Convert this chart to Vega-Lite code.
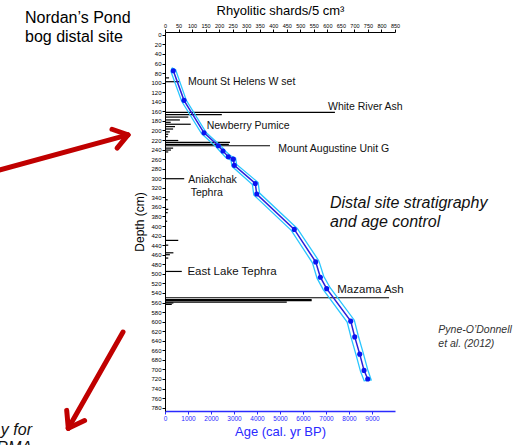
{
  "$schema": "https://vega.github.io/schema/vega-lite/v6.json",
  "width": 230,
  "height": 379,
  "autosize": "none",
  "padding": {"left": 165, "top": 32, "right": 135, "bottom": 34},
  "background": "white",
  "config": {"view": {"stroke": null}, "font": "Liberation Sans"},
  "datasets": {
    "bars": [
      {"depth": 90, "shards": 15}, {"depth": 98, "shards": 53},
      {"depth": 162, "shards": 628}, {"depth": 167, "shards": 210},
      {"depth": 172, "shards": 86}, {"depth": 178, "shards": 55},
      {"depth": 183, "shards": 21}, {"depth": 187, "shards": 95},
      {"depth": 192, "shards": 37}, {"depth": 197, "shards": 30},
      {"depth": 203, "shards": 18}, {"depth": 208, "shards": 12},
      {"depth": 213, "shards": 10}, {"depth": 221, "shards": 49},
      {"depth": 225, "shards": 240}, {"depth": 229, "shards": 236},
      {"depth": 232, "shards": 388}, {"depth": 237, "shards": 30},
      {"depth": 241, "shards": 22}, {"depth": 245, "shards": 12},
      {"depth": 301, "shards": 71}, {"depth": 345, "shards": 10},
      {"depth": 365, "shards": 12}, {"depth": 372, "shards": 10},
      {"depth": 390, "shards": 8}, {"depth": 430, "shards": 49},
      {"depth": 440, "shards": 12}, {"depth": 456, "shards": 31},
      {"depth": 460, "shards": 18}, {"depth": 467, "shards": 12},
      {"depth": 495, "shards": 62}, {"depth": 550, "shards": 828},
      {"depth": 554, "shards": 542}, {"depth": 556, "shards": 542},
      {"depth": 559, "shards": 450}, {"depth": 561, "shards": 31},
      {"depth": 564, "shards": 25}
    ],
    "curve": [
      {"age": 361, "depth": 75}, {"age": 826, "depth": 137},
      {"age": 1696, "depth": 205}, {"age": 2318, "depth": 232},
      {"age": 2522, "depth": 243}, {"age": 2752, "depth": 255},
      {"age": 2970, "depth": 260}, {"age": 3013, "depth": 273},
      {"age": 3926, "depth": 311}, {"age": 3987, "depth": 333},
      {"age": 5622, "depth": 407}, {"age": 6551, "depth": 475},
      {"age": 6754, "depth": 507}, {"age": 7029, "depth": 531},
      {"age": 8075, "depth": 599}, {"age": 8249, "depth": 632},
      {"age": 8466, "depth": 668}, {"age": 8654, "depth": 702},
      {"age": 8813, "depth": 720}
    ],
    "envelope": [
      {"seq": 1, "age": 300, "depth": 69},
      {"seq": 2, "age": 461, "depth": 73},
      {"seq": 3, "age": 926, "depth": 137},
      {"seq": 4, "age": 1796, "depth": 205},
      {"seq": 5, "age": 2418, "depth": 232},
      {"seq": 6, "age": 2622, "depth": 243},
      {"seq": 7, "age": 2852, "depth": 253},
      {"seq": 8, "age": 3070, "depth": 258},
      {"seq": 9, "age": 3113, "depth": 271},
      {"seq": 10, "age": 4050, "depth": 309},
      {"seq": 11, "age": 4110, "depth": 331},
      {"seq": 12, "age": 5750, "depth": 405},
      {"seq": 13, "age": 6690, "depth": 473},
      {"seq": 14, "age": 6900, "depth": 505},
      {"seq": 15, "age": 7180, "depth": 529},
      {"seq": 16, "age": 8230, "depth": 597},
      {"seq": 17, "age": 8405, "depth": 630},
      {"seq": 18, "age": 8620, "depth": 666},
      {"seq": 19, "age": 8810, "depth": 700},
      {"seq": 20, "age": 8965, "depth": 722},
      {"seq": 21, "age": 8660, "depth": 724},
      {"seq": 22, "age": 8500, "depth": 704},
      {"seq": 23, "age": 8310, "depth": 670},
      {"seq": 24, "age": 8095, "depth": 634},
      {"seq": 25, "age": 7920, "depth": 601},
      {"seq": 26, "age": 6880, "depth": 533},
      {"seq": 27, "age": 6610, "depth": 509},
      {"seq": 28, "age": 6410, "depth": 477},
      {"seq": 29, "age": 5490, "depth": 409},
      {"seq": 30, "age": 3860, "depth": 335},
      {"seq": 31, "age": 3800, "depth": 313},
      {"seq": 32, "age": 2913, "depth": 275},
      {"seq": 33, "age": 2870, "depth": 262},
      {"seq": 34, "age": 2652, "depth": 257},
      {"seq": 35, "age": 2422, "depth": 245},
      {"seq": 36, "age": 2218, "depth": 234},
      {"seq": 37, "age": 1596, "depth": 207},
      {"seq": 38, "age": 726, "depth": 139},
      {"seq": 39, "age": 261, "depth": 77},
      {"seq": 40, "age": 300, "depth": 69}
    ],
    "arrows": [
      {"age": -7391, "depth": 285.4, "age2": -1609, "depth2": 209.4},
      {"age": -1609, "depth": 209.4, "age2": -2304, "depth2": 197.5},
      {"age": -1609, "depth": 209.4, "age2": -2083, "depth2": 236.9},
      {"age": -1826, "depth": 621.7, "age2": -4204, "depth2": 823.2},
      {"age": -4204, "depth": 823.2, "age2": -3496, "depth2": 807.1},
      {"age": -4204, "depth": 823.2, "age2": -4274, "depth2": 785.7}
    ],
    "labels": [
      {"group": "site", "label": "Nordan’s Pond", "age": -6087, "depth": -34.7},
      {"group": "site", "label": "bog distal site", "age": -6087, "depth": 5},
      {"group": "tephra", "label": "Mount St Helens W set", "age": 1000, "depth": 97.9},
      {"group": "tephra", "label": "White River Ash", "age": 7087, "depth": 150.2},
      {"group": "tephra", "label": "Newberry Pumice", "age": 1813, "depth": 190.6},
      {"group": "tephra", "label": "Mount Augustine Unit G", "age": 4926, "depth": 239.4},
      {"group": "tephra", "label": "Aniakchak", "age": 1013, "depth": 303.6},
      {"group": "tephra", "label": "Tephra", "age": 1117, "depth": 331.5},
      {"group": "tephraBig", "label": "East Lake Tephra", "age": 974, "depth": 495.5},
      {"group": "tephraBig", "label": "Mazama Ash", "age": 7491, "depth": 533.8},
      {"group": "note", "label": "Distal site stratigraphy", "age": 7174, "depth": 352.4},
      {"group": "note", "label": "and age control", "age": 7174, "depth": 390.9},
      {"group": "cite", "label": "Pyne-O’Donnell", "age": 11883, "depth": 617.5},
      {"group": "cite", "label": "et al. (2012)", "age": 11883, "depth": 646.8},
      {"group": "cut", "label": "y for", "age": -5783, "depth": 826.7},
      {"group": "cut", "label": "RMA", "age": -5783, "depth": 864}
    ]
  },
  "encoding": {
    "y": {
      "field": "depth", "type": "quantitative",
      "scale": {"domain": [-6, 787], "reverse": true, "nice": false, "zero": false},
      "axis": {
        "title": "Depth (cm)", "titleFontSize": 12, "titleFontWeight": "normal", "titleColor": "black",
        "titlePadding": 4,
        "values": [0,20,40,60,80,100,120,140,160,180,200,220,240,260,280,300,320,340,360,380,400,420,440,460,480,500,520,540,560,580,600,620,640,660,680,700,720,740,760,780],
        "labelFontSize": 6, "labelColor": "black", "labelPadding": 1, "tickSize": 3,
        "tickColor": "black", "domainColor": "black", "grid": false, "labelOverlap": false
      }
    }
  },
  "layer": [
    {
      "data": {"name": "bars"},
      "mark": {"type": "rule", "color": "black", "strokeWidth": 1.2},
      "encoding": {
        "x": {
          "field": "shards", "type": "quantitative",
          "scale": {"domain": [0, 850], "nice": false},
          "axis": {
            "orient": "top", "title": "Rhyolitic shards/5 cm³", "titleFontSize": 13,
            "titleFontWeight": "normal", "titleColor": "black", "titlePadding": 6,
            "values": [0,50,100,150,200,250,300,350,400,450,500,550,600,650,700,750,800,850],
            "labelFontSize": 5.5, "labelColor": "black", "labelPadding": 1, "tickSize": 3,
            "labelOverlap": false, "labelFlush": false, "grid": false,
            "tickColor": "black", "domainColor": "black", "domainWidth": 1.2
          }
        },
        "x2": {"datum": 0}
      }
    },
    {
      "encoding": {
        "x": {
          "field": "age", "type": "quantitative",
          "scale": {"domain": [0, 10000], "nice": false},
          "axis": {
            "orient": "bottom", "title": "Age (cal. yr BP)", "titleFontSize": 13,
            "titleFontWeight": "normal", "titleColor": "#2a2aff", "titlePadding": 4,
            "values": [0,1000,2000,3000,4000,5000,6000,7000,8000,9000],
            "format": "d",
            "labelFontSize": 6.5, "labelColor": "#2a2aff", "labelPadding": 1, "tickSize": 3,
            "labelFlush": false, "grid": false,
            "tickColor": "#2a2aff", "domainColor": "#2a2aff", "domainWidth": 1.5
          }
        }
      },
      "layer": [
        {
          "data": {"name": "envelope"},
          "mark": {"type": "line", "color": "#29c6ff", "strokeWidth": 1.3},
          "encoding": {"order": {"field": "seq", "type": "quantitative"}}
        },
        {
          "data": {"name": "curve"},
          "mark": {"type": "line", "color": "#2b1fd9", "strokeWidth": 1.5},
          "encoding": {"order": {"field": "depth", "type": "quantitative"}}
        },
        {
          "data": {"name": "curve"},
          "mark": {"type": "point", "filled": true, "color": "#0a14f0", "size": 26, "opacity": 1}
        },
        {
          "data": {"name": "arrows"},
          "mark": {"type": "rule", "color": "#c00000", "strokeWidth": 5, "strokeCap": "round"},
          "encoding": {"x2": {"field": "age2"}, "y2": {"field": "depth2"}}
        },
        {
          "data": {"name": "labels"},
          "transform": [{"filter": "datum.group == 'site'"}],
          "mark": {"type": "text", "align": "left", "baseline": "middle", "fontSize": 16, "color": "black"},
          "encoding": {"text": {"field": "label"}}
        },
        {
          "data": {"name": "labels"},
          "transform": [{"filter": "datum.group == 'tephra'"}],
          "mark": {"type": "text", "align": "left", "baseline": "middle", "fontSize": 10.5, "color": "#111"},
          "encoding": {"text": {"field": "label"}}
        },
        {
          "data": {"name": "labels"},
          "transform": [{"filter": "datum.group == 'tephraBig'"}],
          "mark": {"type": "text", "align": "left", "baseline": "middle", "fontSize": 11.5, "color": "#111"},
          "encoding": {"text": {"field": "label"}}
        },
        {
          "data": {"name": "labels"},
          "transform": [{"filter": "datum.group == 'note'"}],
          "mark": {"type": "text", "align": "left", "baseline": "middle", "fontSize": 16, "fontStyle": "italic", "color": "#111"},
          "encoding": {"text": {"field": "label"}}
        },
        {
          "data": {"name": "labels"},
          "transform": [{"filter": "datum.group == 'cite'"}],
          "mark": {"type": "text", "align": "left", "baseline": "middle", "fontSize": 10.5, "fontStyle": "italic", "color": "#333"},
          "encoding": {"text": {"field": "label"}}
        },
        {
          "data": {"name": "labels"},
          "transform": [{"filter": "datum.group == 'cut'"}],
          "mark": {"type": "text", "align": "right", "baseline": "middle", "fontSize": 16, "fontStyle": "italic", "color": "#111"},
          "encoding": {"text": {"field": "label"}}
        }
      ]
    }
  ],
  "resolve": {"scale": {"x": "independent"}, "axis": {"x": "independent"}}
}
